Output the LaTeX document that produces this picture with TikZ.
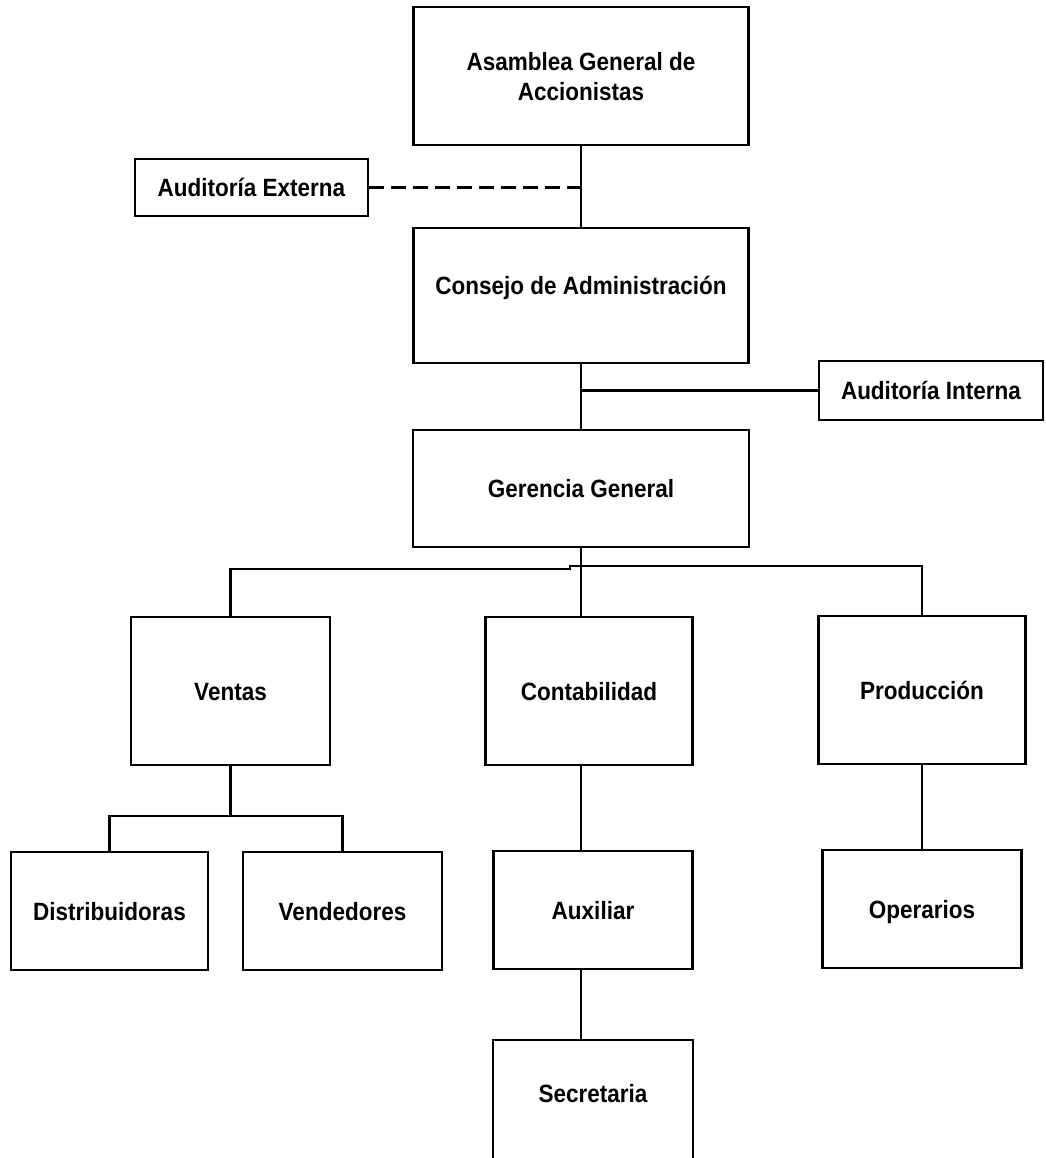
\documentclass[tikz,border=0pt]{standalone}
\usepackage{fontspec}
\setmainfont{Liberation Sans}[FakeStretch=0.9]
\usetikzlibrary{positioning,calc}

\begin{document}
\begin{tikzpicture}[
    x=1pt,y=-1pt,
    caja/.style    = {draw, line width=2.2pt, align=center, inner sep=0pt,
                      text height=18pt, text depth=0pt,
                      font=\fontsize{25}{30}\selectfont\bfseries},
    alta/.style    = {caja, minimum width=199pt, minimum height=148pt},
    baja/.style    = {caja, minimum width=199pt, minimum height=118pt},
    linea/.style   = {line width=2.2pt},
    discont/.style = {line width=2.2pt, dash pattern=on 15pt off 7pt},
  ]

  \clip (0,0) rectangle (1045,1158);

  \node[caja,minimum width=335pt,minimum height=138pt,text height=50pt] (asa)
       at (581,76) {Asamblea General de\\Accionistas};
  \node[caja,minimum width=233pt,minimum height=57pt]  (aex) at (251.5,187.5)
       {Auditoría Externa};
  \node[caja,minimum width=335pt,minimum height=135pt,text depth=20pt] (con)
       at (581,295.5) {Consejo de Administración};
  \node[caja,minimum width=224pt,minimum height=59pt]  (ain) at (931,390.5)
       {Auditoría Interna};
  \node[caja,minimum width=336pt,minimum height=117pt] (ger) at (581,488.5)
       {Gerencia General};

  \node[alta]                    (ven) at (230.5,691) {Ventas};
  \node[alta,minimum width=207pt] (cnt) at (589,691) {Contabilidad};
  \node[alta,minimum width=207pt] (pro) at (922,690) {Producción};

  \node[baja,minimum width=197pt] (dis) at (109.5,911) {Distribuidoras};
  \node[baja]                    (vnd) at (342.5,911) {Vendedores};
  \node[baja]                    (aux) at (593,910) {Auxiliar};
  \node[baja]                    (ope) at (922,909) {Operarios};
  \node[caja,minimum width=200pt,minimum height=120pt,text depth=14pt]
                                 (sec) at (593,1100) {Secretaria};

  \draw[linea] (asa.south) -- (con.north);
  \draw[discont] (aex.east) -- (aex.east -| asa.south);
  \draw[linea] (con.south) -- (ger.north);
  \draw[linea] (ain.west) -- (ain.west -| con.south);

  \coordinate (bi) at (570,569);
  \coordinate (bd) at (570,566);
  \draw[linea] (ger.south) -- (ger.south |- cnt.north);
  \draw[linea] (ven.north) |- (bi) -- (bd) -| (pro.north);

  \draw[linea] (ven.south) -- ++(0,50) coordinate (bv);
  \draw[linea] (dis.north) |- (bv) -| (vnd.north);

  \draw[linea] (cnt.south -| ger.south) -- (aux.north -| ger.south);
  \draw[linea] (aux.south -| ger.south) -- (sec.north -| ger.south);
  \draw[linea] (pro.south) -- (ope.north);

\end{tikzpicture}
\end{document}
